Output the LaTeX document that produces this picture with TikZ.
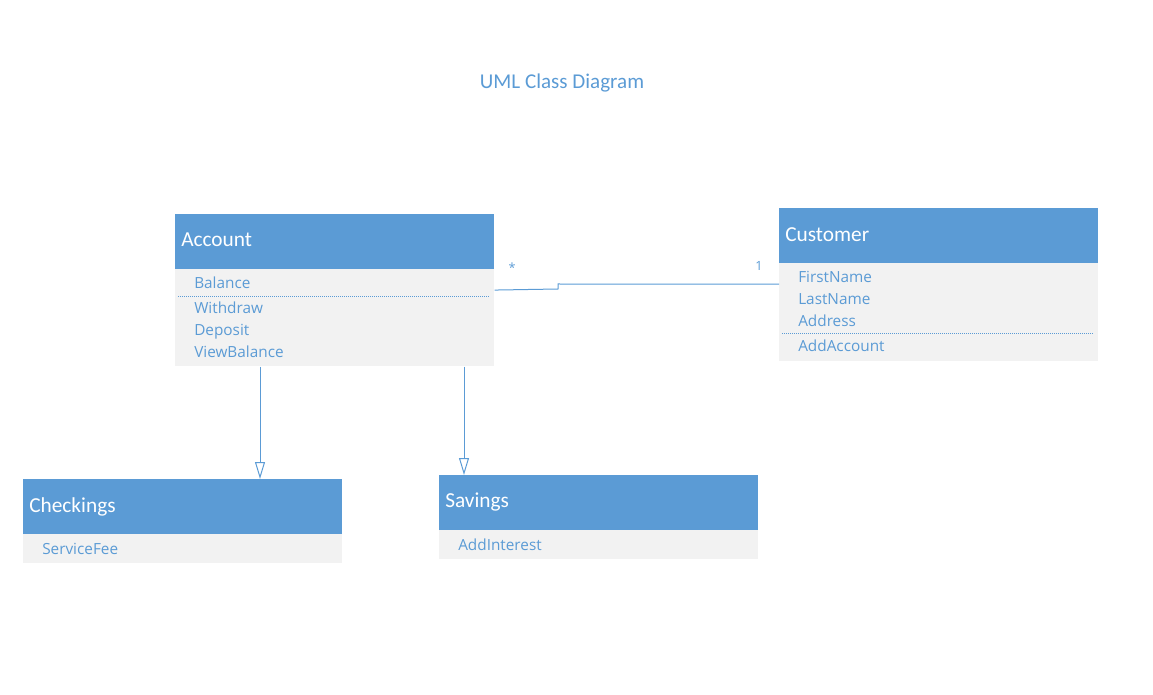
\documentclass[tikz,border=0pt]{standalone}
\usepackage{fontspec}
\setmainfont{Open Sans}
\newfontfamily\headfont{Carlito}
\usetikzlibrary{arrows.meta,calc}
\definecolor{umlblue}{HTML}{5B9BD5}
\definecolor{umlgray}{HTML}{F2F2F2}
\tikzset{
  headbox/.style={fill=umlblue,anchor=north west,inner sep=0,minimum width=239.25pt,minimum height=40.9pt},
  bodybox/.style={fill=umlgray,anchor=north west,inner sep=0,minimum width=239.25pt},
  headtext/.style={font=\headfont\fontsize{16}{18}\selectfont,text=white,anchor=base west,inner sep=0},
  member/.style={font=\fontsize{11.5}{14}\selectfont,text=umlblue,anchor=base west,inner sep=0},
  mult/.style={font=\fontsize{9.5}{11}\selectfont,text=umlblue,anchor=base,inner sep=0},
  sep/.style={draw=umlblue,line width=0.5pt,dash pattern=on 0.75pt off 0.75pt},
  link/.style={draw=umlblue,line width=0.75pt},
  inherit/.style={link,-{Triangle[open,length=12.75pt,width=7.5pt]}}
}
\begin{document}
\begin{tikzpicture}[x=0.75pt,y=-0.75pt]
\useasboundingbox (0,0) rectangle (1153,695);
\node[font=\headfont\fontsize{15.8}{18}\selectfont,text=umlblue,anchor=base,inner sep=0] (title) at (562,89) {UML Class Diagram};

% Account
\node[headbox] (acchead) at (175,214) {};
\node[bodybox,minimum height=72.75pt] (accbody) at (acchead.south west) {};
\node[headtext] (accname) at (181,247) {Account};
\node[member] (balance) at (194,289) {Balance};
\draw[sep] (178,296) -- (489,296);
\node[member] (withdraw) at (194,314) {Withdraw};
\node[member] (deposit) at (194,335) {Deposit};
\node[member] (viewbal) at (194,357) {ViewBalance};

% Customer
\node[headbox] (custhead) at (779,208) {};
\node[bodybox,minimum height=73.5pt] (custbody) at (custhead.south west) {};
\node[headtext] (custname) at (785,242) {Customer};
\node[member] (first) at (798,283) {FirstName};
\node[member] (last) at (798,305) {LastName};
\node[member] (addr) at (798,326) {Address};
\draw[sep] (782,333) -- (1093,333);
\node[member] (addacc) at (798,351) {AddAccount};

% Checkings
\node[headbox] (chkhead) at (23,479) {};
\node[bodybox,minimum height=21.75pt] (chkbody) at (chkhead.south west) {};
\node[headtext] (chkname) at (29,512) {Checkings};
\node[member] (fee) at (42,554) {ServiceFee};

% Savings
\node[headbox] (savhead) at (439,475) {};
\node[bodybox,minimum height=21.75pt] (savbody) at (savhead.south west) {};
\node[headtext] (savname) at (445,507) {Savings};
\node[member] (interest) at (458,550) {AddInterest};

% connectors
\draw[link] ($(accbody.north east)+(0,21)$) -- (558,289) -- (558,284) -- ($(custbody.north west)+(0,21)$);
\node[mult] (many) at (512,273) {*};
\node[mult] (one) at (759,271) {1};
\draw[inherit] ($(accbody.south west)+(85,0)$) -- ($(chkhead.north west)+(237,0)$);
\draw[inherit] ($(accbody.south west)+(289,0)$) -- ($(savhead.north west)+(25,0)$);
\end{tikzpicture}
\end{document}
